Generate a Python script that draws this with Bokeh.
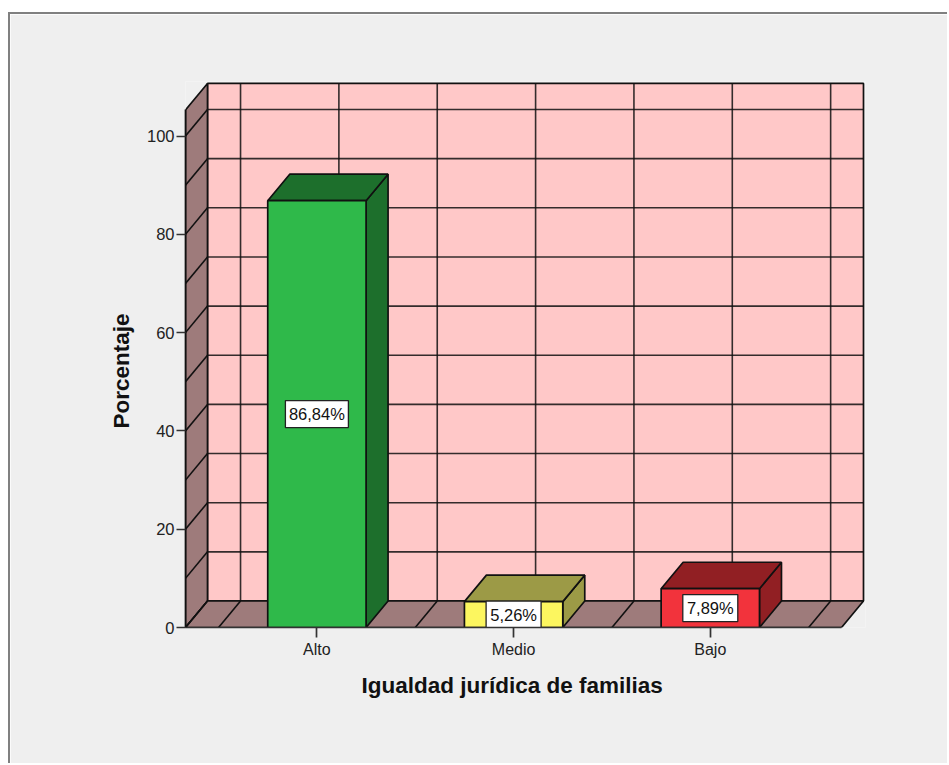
from bokeh.plotting import figure
from bokeh.embed import file_html
from bokeh.resources import INLINE
from bokeh.models import Range1d, FixedTicker, Title
from bokeh.core.properties import value

categories = ["Alto", "Medio", "Bajo"]
percentages = [86.84, 5.26, 7.89]
data_labels = ["86,84%", "5,26%", "7,89%"]
y_ticks = [0, 20, 40, 60, 80, 100]
y_grid_values = [0, 10, 20, 30, 40, 50, 60, 70, 80, 90, 100]
x_grid_values = [-0.5, 0, 0.5, 1, 1.5, 2, 2.5]
x_title = "Igualdad jurídica de familias"
y_title = "Porcentaje"

front_colors = ["#2fb94a", "#fcf65f", "#f2333c"]
dark_colors = ["#1d6f2c", "#9c9a46", "#911f23"]
WALL = "#ffc8c8"
SHADE = "#9e7b7b"
BG = "#efefef"

X_MIN, X_MAX = -0.668, 2.667
Y_MAX = 105.3
DX, DY = 0.1118, 5.39
BAR_W = 0.5
LINE = "#111111"

p = figure(width=939, height=751, output_backend="svg", toolbar_location=None,
           x_range=Range1d(X_MIN, X_MAX + DX + 0.0102), y_range=Range1d(0, Y_MAX + DY + 0.4),
           min_border_left=175, min_border_right=84, min_border_top=67, min_border_bottom=138)
p.margin = (12, 0, 0, 8)
p.styles = {"border-top": "2px solid #808080", "border-left": "2px solid #808080"}
p.grid.visible = False
p.outline_line_color = None
p.border_fill_color = BG
p.background_fill_color = BG

# back wall
back_l, back_r = X_MIN + DX, X_MAX + DX
p.quad(left=[back_l], right=[back_r], bottom=[DY], top=[Y_MAX + DY],
       fill_color=WALL, line_color=LINE, line_width=1.7)
p.segment(x0=[back_l] * len(y_grid_values), x1=[back_r] * len(y_grid_values),
          y0=[v + DY for v in y_grid_values], y1=[v + DY for v in y_grid_values],
          line_color=LINE, line_width=1.6, line_alpha=0.85)
p.segment(x0=[v + DX for v in x_grid_values], x1=[v + DX for v in x_grid_values],
          y0=[DY] * len(x_grid_values), y1=[Y_MAX + DY] * len(x_grid_values),
          line_color=LINE, line_width=1.6, line_alpha=0.85)

# left wall and floor
p.patch(x=[X_MIN, back_l, back_l, X_MIN], y=[0, DY, Y_MAX + DY, Y_MAX],
        fill_color=SHADE, line_color=LINE, line_width=1.7)
p.patch(x=[X_MIN, X_MAX, back_r, back_l], y=[0, 0, DY, DY],
        fill_color=SHADE, line_color=LINE, line_width=1.7)
p.segment(x0=[X_MIN] * len(y_grid_values), x1=[back_l] * len(y_grid_values),
          y0=y_grid_values, y1=[v + DY for v in y_grid_values],
          line_color=LINE, line_width=1.6)
p.segment(x0=x_grid_values, x1=[v + DX for v in x_grid_values],
          y0=[0] * len(x_grid_values), y1=[DY] * len(x_grid_values),
          line_color=LINE, line_width=1.6)

# bars
positions = list(range(len(categories)))
lefts = [i - BAR_W / 2 for i in positions]
rights = [i + BAR_W / 2 for i in positions]
p.patches(xs=[[r, r + DX, r + DX, r] for r in rights],
          ys=[[0, DY, v + DY, v] for v in percentages],
          fill_color=dark_colors, line_color=LINE, line_width=1.7)
p.patches(xs=[[l, r, r + DX, l + DX] for l, r in zip(lefts, rights)],
          ys=[[v, v, v + DY, v + DY] for v in percentages],
          fill_color=dark_colors, line_color=LINE, line_width=1.7)
p.quad(left=lefts, right=rights, bottom=[0] * 3, top=percentages,
       fill_color=front_colors, line_color=LINE, line_width=1.7)

# value labels
mids = [v / 2 for v in percentages]
p.rect(x=positions, y=mids, width=[15 + 8 * len(t) for t in data_labels], height=[27] * 3,
       width_units="screen", height_units="screen",
       fill_color="white", line_color="#222222", line_width=1.3)
p.text(x=positions, y=mids, text=data_labels, text_align="center", text_baseline="middle",
       text_font=value("Liberation Sans"), text_font_size="16.5px", text_color="#111111")

# axes
p.yaxis.ticker = FixedTicker(ticks=y_ticks)
p.yaxis.bounds = (0, Y_MAX)
p.yaxis.major_tick_out = 9
p.yaxis.major_tick_in = 0
p.yaxis.minor_tick_line_color = None
p.yaxis.major_label_standoff = 2
p.yaxis.major_label_text_font = "Liberation Sans"
p.yaxis.major_label_text_font_size = "16.5px"
p.yaxis.major_label_text_color = "#222222"
p.yaxis.axis_line_color = "#111111"
p.yaxis.axis_line_width = 1.7
p.yaxis.major_tick_line_color = "#333333"
p.yaxis.major_tick_line_width = 1.7

p.xaxis.ticker = FixedTicker(ticks=positions)
p.xaxis.major_label_overrides = dict(zip(positions, categories))
p.xaxis.bounds = (X_MIN, X_MAX)
p.xaxis.major_tick_out = 10
p.xaxis.major_tick_in = 0
p.xaxis.minor_tick_line_color = None
p.xaxis.major_label_standoff = 3
p.xaxis.major_label_text_font = "Liberation Sans"
p.xaxis.major_label_text_font_size = "16px"
p.xaxis.major_label_text_color = "#222222"
p.xaxis.axis_line_color = "#333333"
p.xaxis.axis_line_width = 1.7
p.xaxis.major_tick_line_color = "#333333"
p.xaxis.major_tick_line_width = 1.7

# axis titles, placed along the front plane rather than the whole frame
p.add_layout(Title(text=x_title, align="left", offset=176, standoff=21,
                   text_font="Liberation Sans", text_font_style="bold",
                   text_font_size="22.5px", text_color="#111111"), "below")
p.add_layout(Title(text=y_title, align="left", offset=199, standoff=20,
                   text_font="Liberation Sans", text_font_style="bold",
                   text_font_size="22.5px", text_color="#111111"), "left")

open("out.html", "w").write(file_html(p, INLINE))
